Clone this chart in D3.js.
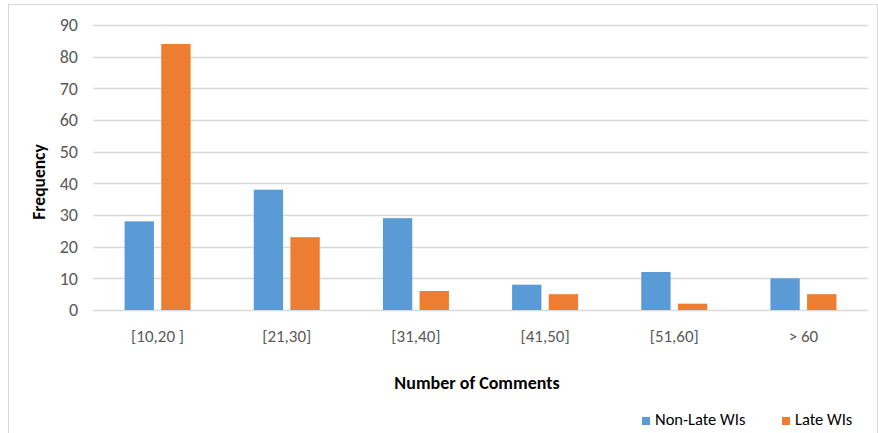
<!DOCTYPE html>
<html>
<head>
<meta charset="utf-8">
<script src="https://cdn.jsdelivr.net/npm/d3@7"></script>
<style>
  body { margin: 0; background: #fff; }
  svg text { font-family: Carlito, "Open Sans", "Liberation Sans", sans-serif; }
</style>
</head>
<body>
<div id="chart"></div>
<script>
const categories = ['[10,20 ]', '[21,30]', '[31,40]', '[41,50]', '[51,60]', '> 60'];
const seriesNames = ['Non-Late WIs', 'Late WIs'];
const nonLate = [28, 38, 29, 8, 12, 10];
const late = [84, 23, 6, 5, 2, 5];
const yTicks = [0, 10, 20, 30, 40, 50, 60, 70, 80, 90];
const colors = ['#5B9BD5', '#ED7D31'];

const width = 878, height = 433;
const margin = {top: 25, right: 10, bottom: 123, left: 93};

const svg = d3.select('#chart').append('svg')
    .attr('width', width)
    .attr('height', height);

// outer frame like the spreadsheet chart area
svg.append('rect')
    .attr('x', 8.5).attr('y', 4.5)
    .attr('width', width - 9).attr('height', height + 10)
    .attr('fill', 'none')
    .attr('stroke', '#d9d9d9');

const x = d3.scaleBand()
    .domain(categories)
    .range([margin.left, width - margin.right]);

const x1 = d3.scaleBand()
    .domain(seriesNames)
    .range([0, 66])
    .paddingInner(0.2);

const y = d3.scaleLinear()
    .domain([0, 90])
    .range([height - margin.bottom, margin.top]);

// gridlines
svg.append('g')
    .selectAll('line')
    .data(yTicks)
  .join('line')
    .attr('x1', margin.left)
    .attr('x2', width - margin.right)
    .attr('y1', d => Math.round(y(d)) + 0.5)
    .attr('y2', d => Math.round(y(d)) + 0.5)
    .attr('stroke', '#d9d9d9')
    .attr('stroke-width', 1.3);

// y tick labels
svg.append('g')
    .selectAll('text')
    .data(yTicks)
  .join('text')
    .attr('x', 78)
    .attr('y', d => y(d))
    .attr('dy', '0.35em')
    .attr('text-anchor', 'end')
    .attr('fill', '#595959')
    .attr('font-size', 18)
    .text(d => d);

// bars
const rows = categories.map((c, i) => ({cat: c, values: [nonLate[i], late[i]]}));
const groups = svg.append('g')
    .selectAll('g')
    .data(rows)
  .join('g')
    .attr('transform', d => `translate(${x(d.cat) + x.bandwidth() / 2 - 33},0)`);

groups.selectAll('rect')
    .data(d => d.values.map((v, j) => ({name: seriesNames[j], value: v, j})))
  .join('rect')
    .attr('x', d => x1(d.name))
    .attr('y', d => y(d.value))
    .attr('width', x1.bandwidth())
    .attr('height', d => y(0) - y(d.value))
    .attr('fill', d => colors[d.j]);

// x tick labels
svg.append('g')
    .selectAll('text')
    .data(categories)
  .join('text')
    .attr('x', d => x(d) + x.bandwidth() / 2)
    .attr('y', 342)
    .attr('text-anchor', 'middle')
    .attr('fill', '#595959')
    .attr('font-size', 17)
    .text(d => d);

// axis titles
svg.append('text')
    .attr('x', 477)
    .attr('y', 389)
    .attr('text-anchor', 'middle')
    .attr('font-weight', 'bold')
    .attr('font-size', 18)
    .attr('fill', '#000')
    .text('Number of Comments');

svg.append('text')
    .attr('transform', 'translate(45,182) rotate(-90)')
    .attr('text-anchor', 'middle')
    .attr('font-weight', 'bold')
    .attr('font-size', 17.5)
    .attr('fill', '#000')
    .text('Frequency');

// legend
const legendX = [642, 782];
const legend = svg.append('g')
    .selectAll('g')
    .data(seriesNames)
  .join('g')
    .attr('transform', (d, i) => `translate(${legendX[i]},417)`);

legend.append('rect')
    .attr('width', 8).attr('height', 8)
    .attr('fill', (d, i) => colors[i]);

legend.append('text')
    .attr('x', 13)
    .attr('y', 8)
    .attr('font-size', 16.5)
    .attr('fill', '#000')
    .text(d => d);
</script>
</body>
</html>
